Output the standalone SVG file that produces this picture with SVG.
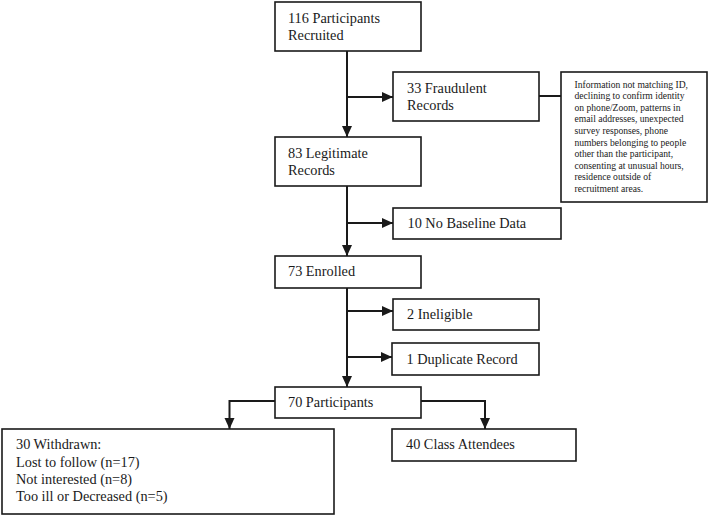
<svg xmlns="http://www.w3.org/2000/svg" width="709" height="516" viewBox="0 0 709 516">
<style>
.box{fill:#fff;stroke:#1a1a1a;stroke-width:1.6}
.t{font-family:"Liberation Serif","Times New Roman",serif;font-size:14.3px;fill:#1a1a1a}
.s{font-family:"Liberation Serif","Times New Roman",serif;font-size:9.6px;fill:#1a1a1a}
.c{fill:none;stroke:#1a1a1a;stroke-width:2}
</style>
<defs>
<marker id="ah" markerUnits="userSpaceOnUse" markerWidth="11" markerHeight="11" viewBox="0 0 11 11" refX="11" refY="5.5" orient="auto">
<path d="M0,0.5 L11,5.5 L0,10.5 Z" fill="#1a1a1a"/>
</marker>
</defs>
<rect width="709" height="516" fill="#fff"/>
<g id="connectors">
<path class="c" d="M347,51 V137" marker-end="url(#ah)"/>
<path class="c" d="M347,97 H393" marker-end="url(#ah)"/>
<path class="c" d="M539,96 H561"/>
<path class="c" d="M347,186 V256" marker-end="url(#ah)"/>
<path class="c" d="M347,223 H393" marker-end="url(#ah)"/>
<path class="c" d="M347,288 V387" marker-end="url(#ah)"/>
<path class="c" d="M347,311 H393" marker-end="url(#ah)"/>
<path class="c" d="M347,357 H392" marker-end="url(#ah)"/>
<path class="c" d="M275,401 H229.5 V429" marker-end="url(#ah)"/>
<path class="c" d="M420,401 H485 V429" marker-end="url(#ah)"/>
</g>
<g id="n116">
<rect class="box" x="275" y="2" width="146" height="49"/>
<text class="t" x="288" y="22.7">116 Participants</text>
<text class="t" x="288" y="39.5">Recruited</text>
</g>
<g id="n33">
<rect class="box" x="393" y="72" width="146" height="49"/>
<text class="t" x="407" y="92.7">33 Fraudulent</text>
<text class="t" x="407" y="109.5">Records</text>
</g>
<g id="info">
<rect class="box" x="561" y="72" width="146" height="130"/>
<text class="s" x="574.5" y="87.6">Information not matching ID,</text>
<text class="s" x="574.5" y="99.2">declining to confirm identity</text>
<text class="s" x="574.5" y="110.7">on phone/Zoom, patterns in</text>
<text class="s" x="574.5" y="122.3">email addresses, unexpected</text>
<text class="s" x="574.5" y="133.9">survey responses, phone</text>
<text class="s" x="574.5" y="145.5">numbers belonging to people</text>
<text class="s" x="574.5" y="157">other than the participant,</text>
<text class="s" x="574.5" y="168.6">consenting at unusual hours,</text>
<text class="s" x="574.5" y="180.2">residence outside of</text>
<text class="s" x="574.5" y="191.7">recruitment areas.</text>
</g>
<g id="n83">
<rect class="box" x="275" y="137" width="146" height="49"/>
<text class="t" x="288" y="157.5">83 Legitimate</text>
<text class="t" x="288" y="175">Records</text>
</g>
<g id="n10">
<rect class="box" x="393" y="208" width="168" height="31"/>
<text class="t" x="407.5" y="227.7">10 No Baseline Data</text>
</g>
<g id="n73">
<rect class="box" x="275" y="256" width="146" height="32"/>
<text class="t" x="288" y="276">73 Enrolled</text>
</g>
<g id="n2">
<rect class="box" x="393" y="299" width="146" height="31"/>
<text class="t" x="407" y="319">2 Ineligible</text>
</g>
<g id="n1">
<rect class="box" x="392" y="343" width="147" height="32"/>
<text class="t" x="406.5" y="364">1 Duplicate Record</text>
</g>
<g id="n70">
<rect class="box" x="275" y="387" width="146" height="31"/>
<text class="t" x="288" y="406.7">70 Participants</text>
</g>
<g id="n30">
<rect class="box" x="2" y="429" width="332" height="85"/>
<text class="t" x="16" y="449">30 Withdrawn:</text>
<text class="t" x="16" y="466.5">Lost to follow (n=17)</text>
<text class="t" x="16" y="484">Not interested (n=8)</text>
<text class="t" x="16" y="501">Too ill or Decreased (n=5)</text>
</g>
<g id="n40">
<rect class="box" x="392" y="429" width="184" height="32"/>
<text class="t" x="406" y="449">40 Class Attendees</text>
</g>
</svg>
